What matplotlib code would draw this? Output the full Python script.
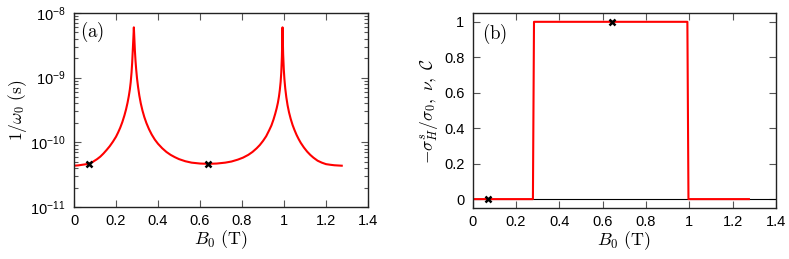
import numpy as np
import matplotlib
matplotlib.use("Agg")
import matplotlib.pyplot as plt
from matplotlib.ticker import FixedLocator, LogLocator, NullFormatter

plt.rcParams['mathtext.fontset'] = 'cm'
plt.rcParams['font.family'] = ['Liberation Sans', 'DejaVu Sans']

# panel (a): 1/omega_0 vs B0
b_a = [0.00, 0.02, 0.04, 0.06, 0.076, 0.09, 0.11, 0.125, 0.14, 0.155, 0.17,
       0.185, 0.20, 0.21, 0.22, 0.23, 0.24, 0.248, 0.255, 0.261, 0.266,
       0.270, 0.274, 0.277, 0.280, 0.283, 0.285, 0.287, 0.290, 0.293, 0.296,
       0.300, 0.305, 0.311, 0.318, 0.326, 0.335, 0.345, 0.357, 0.37, 0.385,
       0.40, 0.42, 0.44, 0.46, 0.48, 0.50, 0.53, 0.56, 0.60, 0.64, 0.68,
       0.72, 0.75, 0.78, 0.805, 0.83, 0.85, 0.87, 0.885, 0.90, 0.915, 0.93,
       0.94, 0.95, 0.958, 0.965, 0.971, 0.976, 0.980, 0.984, 0.987, 0.990,
       0.993, 0.996, 0.999, 1.002, 1.006, 1.011, 1.017, 1.024, 1.032, 1.041,
       1.05, 1.06, 1.07, 1.08, 1.095, 1.11, 1.125, 1.14, 1.16, 1.18, 1.20,
       1.22, 1.24, 1.26, 1.275]
inv_w0 = [4.35e-11, 4.4e-11, 4.5e-11, 4.6e-11, 4.75e-11, 5.0e-11, 5.5e-11,
          6.0e-11, 6.7e-11, 7.6e-11, 8.7e-11, 1.02e-10, 1.22e-10, 1.42e-10,
          1.68e-10, 2.05e-10, 2.6e-10, 3.25e-10, 4.1e-10, 5.2e-10, 6.6e-10,
          8.5e-10, 1.2e-9, 1.7e-9, 2.7e-9, 4.3e-9, 6.0e-9, 4.3e-9, 2.6e-9,
          1.8e-9, 1.35e-9, 9.8e-10, 7.2e-10, 5.3e-10, 4.0e-10, 3.1e-10,
          2.45e-10, 1.98e-10, 1.6e-10, 1.32e-10, 1.1e-10, 9.5e-11, 8.1e-11,
          7.1e-11, 6.4e-11, 5.9e-11, 5.5e-11, 5.1e-11, 4.85e-11, 4.7e-11,
          4.65e-11, 4.7e-11, 4.85e-11, 5.05e-11, 5.4e-11, 5.8e-11, 6.4e-11,
          7.1e-11, 8.1e-11, 9.1e-11, 1.05e-10, 1.24e-10, 1.55e-10, 1.82e-10,
          2.25e-10, 2.75e-10, 3.35e-10, 4.1e-10, 5.1e-10, 6.4e-10, 8.6e-10,
          1.2e-9, 2.1e-9, 6.0e-9, 2.3e-9, 1.35e-9, 9.5e-10, 6.8e-10, 5.0e-10,
          3.75e-10, 2.9e-10, 2.3e-10, 1.85e-10, 1.55e-10, 1.3e-10, 1.12e-10,
          9.8e-11, 8.3e-11, 7.2e-11, 6.4e-11, 5.8e-11, 5.2e-11, 4.85e-11,
          4.6e-11, 4.5e-11, 4.42e-11, 4.38e-11, 4.35e-11]
mark_b_a = [0.072, 0.64]
mark_w_a = [4.7e-11, 4.7e-11]

# panel (b): Hall conductivity / Chern number
b_b = [0.0, 0.278, 0.283, 0.991, 0.996, 1.275]
sig_b = [0, 0, 1, 1, 0, 0]
mark_b_b = [0.072, 0.645]
mark_s_b = [0, 1]

fig = plt.figure(figsize=(7.89, 2.59), dpi=100)
ax1 = fig.add_axes([0.0938, 0.2008, 0.3726, 0.749])
ax2 = fig.add_axes([0.5991, 0.197, 0.3844, 0.753])

for ax in (ax1, ax2):
    ax.tick_params(which='both', direction='in', top=True, right=True,
                   labelsize=10.5, color='#555555')
    ax.tick_params(axis='x', pad=5)
    ax.tick_params(axis='y', pad=6)
    ax.tick_params(which='major', length=5, width=0.8)
    ax.tick_params(which='minor', length=3, width=0.8)
    for s in ax.spines.values():
        s.set_linewidth(1.0)
        s.set_color('#222222')
    ax.set_xlim(0, 1.4)
    ax.set_xticks(np.arange(0, 1.41, 0.2))
    ax.set_xticklabels(['0', '0.2', '0.4', '0.6', '0.8', '1', '1.2', '1.4'])
    ax.set_xlabel(r'$B_0\ (\mathrm{T})$', fontsize=13, labelpad=0)

ax1.plot(b_a, inv_w0, color='red', lw=1.5)
ax1.plot(mark_b_a, mark_w_a, 'x', color='black', ms=4.5, mew=1.8)
ax1.set_yscale('log')
ax1.set_ylim(1e-11, 1e-8)
ax1.yaxis.set_major_locator(FixedLocator([1e-11, 1e-10, 1e-9, 1e-8]))
ax1.yaxis.set_minor_locator(LogLocator(base=10, subs=np.arange(2, 10)))
ax1.yaxis.set_minor_formatter(NullFormatter())
ax1.set_yticklabels([r'$\mathregular{10^{%d}}$' % e for e in (-11, -10, -9, -8)])
ax1.set_ylabel(r'$1/\omega_0\ (\mathrm{s})$', fontsize=12.5, labelpad=1)
ax1.text(0.022, 0.905, r'$\mathrm{(a)}$', transform=ax1.transAxes,
         fontsize=13.5, va='center', ha='left')

ax2.axhline(0, color='black', lw=0.8)
ax2.plot(b_b, sig_b, color='red', lw=1.5)
ax2.plot(mark_b_b, mark_s_b, 'x', color='black', ms=4.5, mew=1.8)
ax2.set_ylim(-0.05, 1.05)
ax2.set_yticks(np.arange(0, 1.01, 0.2))
ax2.set_yticklabels(['0', '0.2', '0.4', '0.6', '0.8', '1'])
ax2.set_ylabel(r'$-\sigma_H^s/\sigma_0,\ \nu,\ \mathcal{C}$', fontsize=12.5,
               labelpad=3)
ax2.text(0.03, 0.895, r'$\mathrm{(b)}$', transform=ax2.transAxes,
         fontsize=13.5, va='center', ha='left')

fig.savefig('out.png', dpi=100)
